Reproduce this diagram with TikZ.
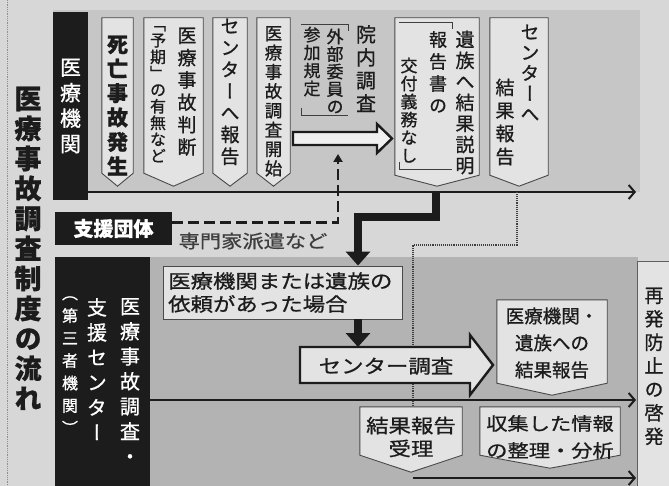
\documentclass[tikz,border=0pt]{standalone}
\usepackage{fontspec}
\usetikzlibrary{arrows.meta,calc}
\newfontfamily\jv[RawFeature=+vert,FakeBold=0.8]{Noto Sans CJK JP}
\newfontfamily\jh[FakeBold=0.8]{Noto Sans CJK JP}
\newfontfamily\jw[FakeStretch=1.18,FakeBold=0.8]{Noto Sans CJK JP}
\definecolor{paper}{HTML}{D7D7D7}
\definecolor{panel}{HTML}{C6C6C6}
\definecolor{paneltwo}{HTML}{B3B3B3}
\definecolor{boxfill}{HTML}{E3E3E3}
\definecolor{ink}{HTML}{1C1C1C}
\makeatletter
\newcommand\vt[2][1.1em]{\vtop{\baselineskip=#1\relax\lineskiplimit=-100pt\lineskip=0pt\@tfor\vt@c:=#2\do{\hbox to 1em{\hss\vt@c\hss}}}}
\makeatother
\newcommand\fs[2]{\fontsize{#1}{#2}\selectfont}
\newcommand\pent[2]{\draw[pbox] (#1.north west) -- (#1.north east) -- (#1.south east) -- ($(#1.south)+(0,#2)$) -- (#1.south west) -- cycle;}
\begin{document}
\begin{tikzpicture}[x=1pt,y=-1pt,
  pbox/.style={draw=ink!80, line width=0.9pt, fill=boxfill},
  vtx/.style={inner sep=0pt, anchor=north, text=ink},
  htx/.style={inner sep=0pt, text=ink, align=center},
  blk/.style={fill=ink, draw=none, inner sep=0pt},
  boxn/.style={inner sep=0pt, draw=none},
  tl/.style={draw=ink, line width=2pt, -{Straight Barb[length=6pt,width=14pt,line width=2pt]}},
  fat/.style={draw=ink, line width=8pt, line join=miter, -{Triangle[length=14pt,width=24pt]}},
  dsh/.style={draw=ink, line width=2.2pt, dash pattern=on 11pt off 5pt, -{Triangle[length=8pt,width=9pt]}},
  dotl/.style={draw=ink!85, line width=1.1pt, densely dotted},
  hollow/.style={draw=ink, line width=2.4pt, line join=miter},
  brk/.style={draw=ink!85, line width=0.9pt}]

\fill[paper] (0,0) rectangle (669,486);
\useasboundingbox (0,0) rectangle (669,486);
\fill[panel] (53,10) rectangle (640,192);
\fill[paneltwo] (150,257) rectangle (638,486);
\draw[ink!50, line width=0.8pt, densely dotted] (7,0) -- (7,486);

% title
\node[vtx, font=\jv\bfseries\fs{27}{30}] (title) at (28,86.5) {\vt[30pt]{医療事故調査制度の流れ}};

% 医療機関 label
\node[blk, minimum width=35, minimum height=188, text=white, font=\jv\fs{21}{25}] (kikan) at (70.5,106) {\vt[25.5pt]{医療機関}};

% top boxes
\node[boxn, minimum width=31, minimum height=155] (b1) at (117.5,95.5) {};
\pent{b1}{13}
\node[vtx, font=\jv\bfseries\fs{21}{24}] (t1) at (117.5,35.5) {\vt[24.4pt]{死亡事故発生}};

\node[boxn, minimum width=59, minimum height=155] (b2) at (173.5,95.5) {};
\pent{b2}{13}
\node[vtx, font=\jv\fs{19}{22}] (t2a) at (187,27.5) {\vt[22.3pt]{医療事故判断}};
\node[vtx, font=\jv\fs{16}{18}] (t2b) at (158,26) {\vt[16.5pt]{「予期」の有無など}};

\node[boxn, minimum width=34, minimum height=155] (b3) at (230,95.5) {};
\pent{b3}{13}
\node[vtx, font=\jv\fs{19}{22}] (t3) at (230,18.5) {\vt[21.7pt]{センターへ報告}};

\node[boxn, minimum width=33, minimum height=155] (b4) at (273.5,95.5) {};
\pent{b4}{13}
\node[vtx, font=\jv\fs{17.5}{20}] (t4) at (273.5,26) {\vt[19.3pt]{医療事故調査開始}};

% 院内調査
\node[vtx, font=\jv\fs{20}{23}] (t5) at (366,25) {\vt[23pt]{院内調査}};
\node[vtx, font=\jv\fs{17}{19}] (t5b) at (335,28.5) {\vt[17.5pt]{外部委員の}};
\node[vtx, font=\jv\fs{17}{19}] (t5c) at (312,26.5) {\vt[18pt]{参加規定}};
\draw[brk] (301,24) -- (348,24) -- (348,31);
\draw[brk] (301,108) -- (301,115) -- (348,115);
\draw[hollow, fill=white!94!black] (293,132) -- (377,132) -- (377,124) -- (392,138.5) -- (377,153) -- (377,145) -- (293,145) -- cycle;

% 遺族へ結果説明
\node[boxn, minimum width=84, minimum height=157] (b6) at (437,96.5) {};
\pent{b6}{11}
\node[vtx, font=\jv\fs{19}{22}] (t6) at (465,30.5) {\vt[21pt]{遺族へ結果説明}};
\node[vtx, font=\jv\fs{18}{20}] (t6b) at (438,31) {\vt[22pt]{報告書の}};
\node[vtx, font=\jv\fs{17}{19}] (t6c) at (409,57.5) {\vt[18pt]{交付義務なし}};
\draw[brk] (399,22) -- (452,22) -- (452,29);
\draw[brk] (399,162) -- (399,169) -- (452,169);

% センターへ結果報告
\node[boxn, minimum width=58, minimum height=157] (b7) at (519,96.5) {};
\pent{b7}{11}
\node[vtx, font=\jv\fs{19}{22}] (t7) at (530,24.5) {\vt[20.5pt]{センターへ}};
\node[vtx, font=\jv\fs{19}{22}] (t7b) at (505,78.5) {\vt[23pt]{結果報告}};

% timeline
\coordinate (tend) at (636,192);
\draw[tl] (kikan.east |- tend) -- (tend);

% 支援団体
\node[blk, minimum width=117, minimum height=33, text=white, font=\jh\bfseries\fs{20}{22}] (sg) at (113.5,228.5) {支援団体};
\coordinate (dup) at (338,154);
\draw[dsh] ($(sg.east)+(0,-6)$) -| (dup);
\node[htx, font=\jw\fs{18}{20}, text=ink!85] (senmon) at (253,241) {専門家派遣など};

% bottom label
\node[blk, minimum width=95, minimum height=229] (cen) at (102.5,371.5) {};
\node[vtx, text=white, font=\jv\fs{20}{22}] (c1) at (130,298) {\vt[25pt]{医療事故調査・}};
\node[vtx, text=white, font=\jv\fs{20}{22}] (c2) at (97,298) {\vt[25pt]{支援センター}};
\node[vtx, text=white, font=\jv\fs{16}{18}] (c3) at (70,296) {\vt[22.5pt]{（第三者機関）}};

% dotted connector
\node[boxn, minimum width=102, minimum height=48] (r2) at (411,431) {};
\coordinate (d0) at (517,192);
\coordinate (d1) at (413,245);
\draw[dotl] (d0) |- (d1) -- (d1 |- r2.north);

% request box
\node[boxn, draw=ink!80, line width=0.9pt, fill=boxfill, minimum width=239, minimum height=53] (req) at (282.5,292.5) {};
\node[htx, anchor=north west, align=left, font=\jw\fs{19}{23}] (reqt) at (168,272) {医療機関または遺族の\\依頼があった場合};

% thick arrows
\coordinate (e0) at (436,191);
\coordinate (ea) at (358,217);
\draw[fat] (e0) |- (ea) -- (ea |- req.north);
\coordinate (eb) at (358,347);
\draw[fat] (req.south -| eb) -- (eb);

% センター調査 arrow
\draw[hollow, fill=boxfill] (300,347) -- (470,347) -- (470,335) -- (493,365) -- (470,395) -- (470,383) -- (300,383) -- cycle;
\node[htx, font=\jw\fs{19}{22}] (cs) at (386,366) {センター調査};

% result box
\node[boxn, minimum width=110, minimum height=83] (r1) at (552,341.5) {};
\pent{r1}{12}
\node[htx, font=\jh\fs{18.5}{27}] (r1t) at (552,343) {医療機関・\\遺族への\\結果報告};

% middle line
\coordinate (mend) at (636,400);
\draw[tl] (cen.east |- mend) -- (mend);

% bottom boxes
\pent{r2}{17}
\node[htx, font=\jw\fs{19}{23}] (r2t) at (411,437) {結果報告\\受理};
\node[boxn, minimum width=140, minimum height=48] (r3) at (550,431) {};
\pent{r3}{13}
\node[htx, font=\jw\fs{18}{27}] (r3t) at (550,437) {収集した情報\\の整理・分析};

\coordinate (bstart) at (413,478);
\coordinate (bend) at (636,478);
\draw[tl] (bstart) -- (bend);

% 再発防止の啓発
\node[boxn, fill=boxfill, minimum width=31, minimum height=224] (sh) at (653.5,374) {};
\draw[ink!70, line width=0.9pt] (sh.south west) -- (sh.north west) -- (sh.north east);
\node[vtx, font=\jv\fs{19}{22}] (sht) at (654,287.5) {\vt[23.5pt]{再発防止の啓発}};
\end{tikzpicture}
\end{document}
